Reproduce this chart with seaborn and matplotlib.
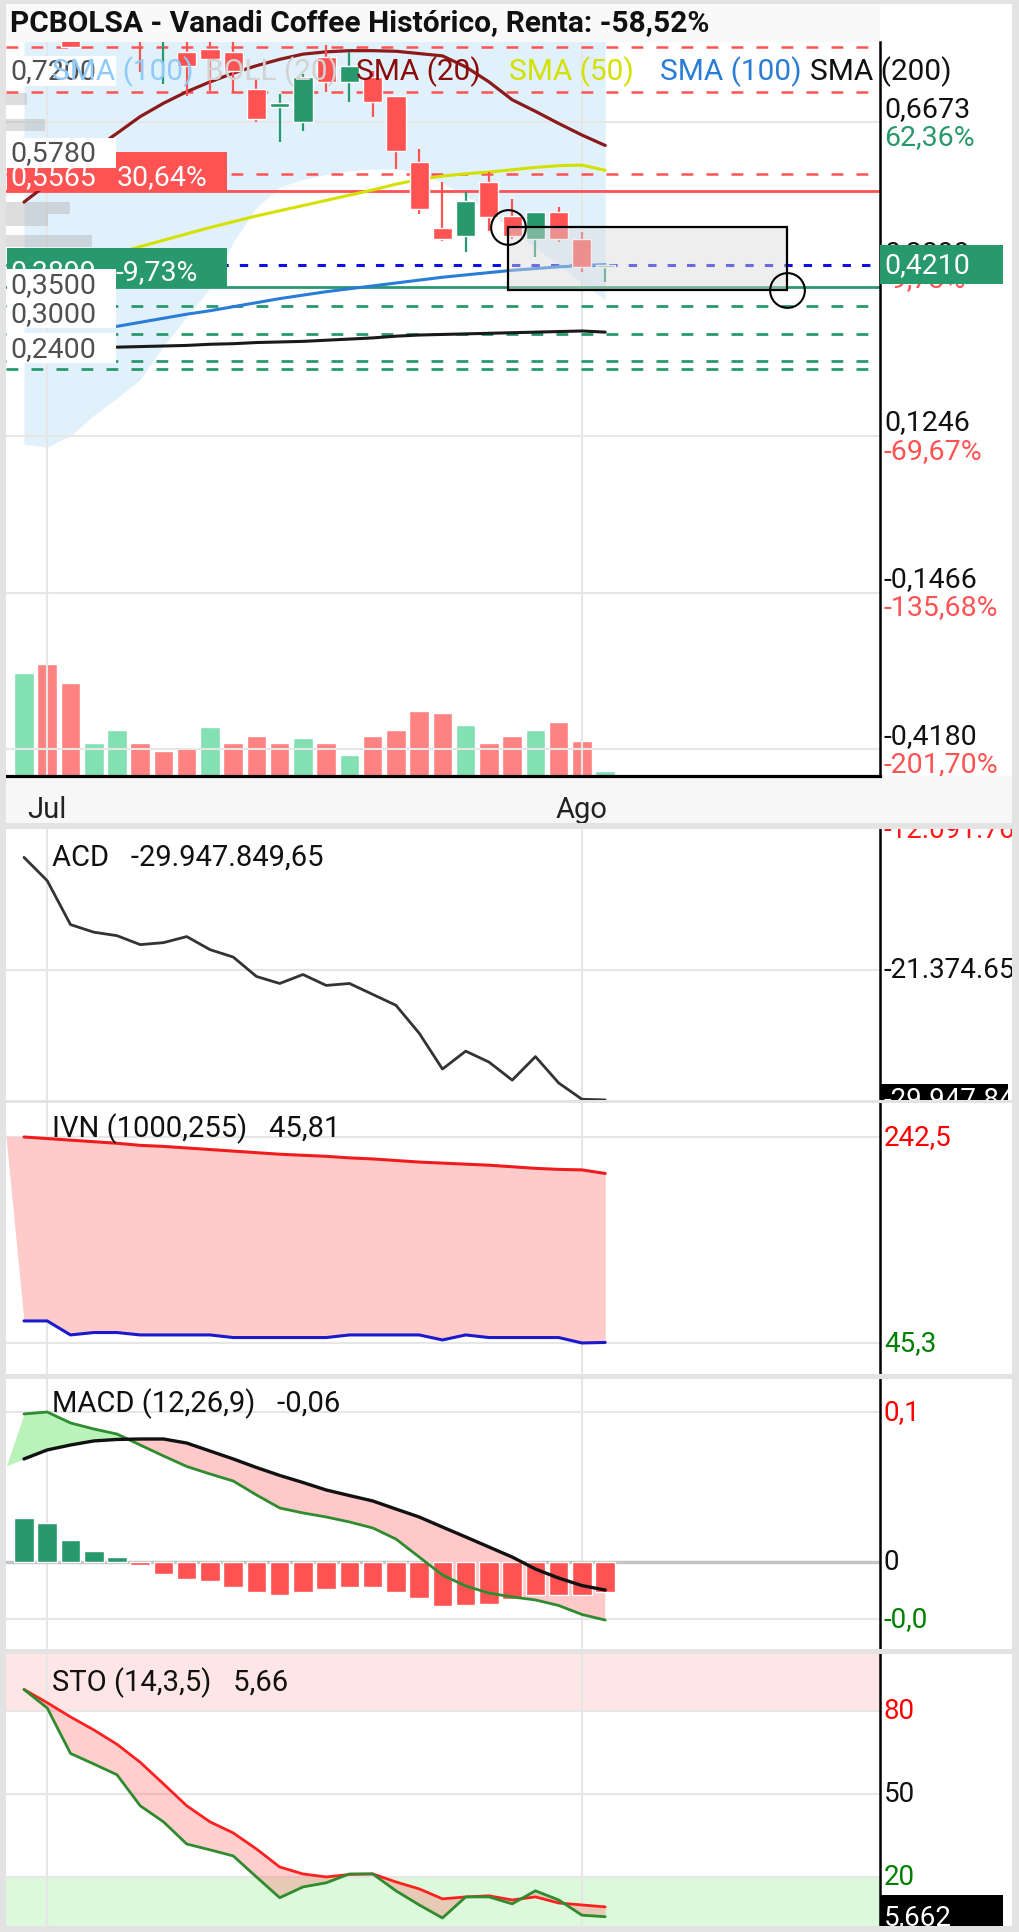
import numpy as np
import matplotlib
matplotlib.use("Agg")
import matplotlib.pyplot as plt
from matplotlib.patches import Rectangle
import seaborn as sns

# ---------------- data ----------------
bars = list(range(26))                 # daily sessions, July -> August
month_ticks = [1, 24]
month_labels = ["Jul", "Ago"]

opens = [0.840, 0.900, 0.860, 0.820, 0.830, 0.840, 0.812, 0.788, 0.794, 0.788, 0.724, 0.694, 0.667,
         0.780, 0.737, 0.745, 0.712, 0.598, 0.484, 0.470, 0.564, 0.505, 0.465, 0.512, 0.465, 0.416]
closes = [0.880, 0.850, 0.797, 0.850, 0.860, 0.810, 0.840, 0.764, 0.776, 0.756, 0.673, 0.700, 0.745,
          0.737, 0.764, 0.702, 0.617, 0.517, 0.465, 0.531, 0.503, 0.470, 0.512, 0.465, 0.416, 0.421]
highs = [0.900, 0.920, 0.880, 0.870, 0.880, 0.860, 0.850, 0.810, 0.820, 0.810, 0.742, 0.716, 0.750,
         0.800, 0.788, 0.755, 0.712, 0.621, 0.564, 0.546, 0.581, 0.534, 0.512, 0.520, 0.477, 0.421]
lows = [0.830, 0.830, 0.797, 0.810, 0.815, 0.754, 0.733, 0.712, 0.721, 0.719, 0.667, 0.633, 0.652,
        0.719, 0.702, 0.676, 0.586, 0.508, 0.461, 0.442, 0.479, 0.465, 0.434, 0.460, 0.408, 0.391]

# volume in millions, colour flag as drawn (1 = green)
volume = [2.06, 2.24, 1.86, 0.66, 0.92, 0.66, 0.50, 0.58, 0.98, 0.66, 0.80, 0.66, 0.76,
          0.66, 0.42, 0.80, 0.92, 1.30, 1.26, 1.02, 0.66, 0.80, 0.92, 1.08, 0.70, 0.10]
vol_up = [1, 0, 0, 1, 1, 0, 0, 0, 1, 0, 0, 0, 1, 0, 1, 0, 0, 0, 0, 1, 0, 0, 1, 0, 0, 1]

# volume at price (thousand shares)
prof_price = [0.707, 0.662, 0.519, 0.498, 0.461]
prof_vol = [21, 39, 64, 42, 86]

sma20 = [0.529, 0.560, 0.590, 0.620, 0.648, 0.677, 0.700, 0.720, 0.737, 0.752, 0.765, 0.776, 0.785,
         0.789, 0.791, 0.791, 0.790, 0.786, 0.782, 0.763, 0.737, 0.706, 0.686, 0.665, 0.645, 0.627]
sma50 = [0.430, 0.440, 0.452, 0.463, 0.474, 0.485, 0.495, 0.505, 0.514, 0.523, 0.532, 0.541,
         0.550, 0.560, 0.568, 0.574, 0.578, 0.581, 0.585, 0.589, 0.592, 0.593, 0.584]
sma100 = [0.314, 0.321, 0.328, 0.335, 0.341, 0.348, 0.355, 0.362, 0.368, 0.374, 0.379,
          0.384, 0.389, 0.394, 0.399, 0.403, 0.407, 0.411, 0.414, 0.417, 0.419, 0.421]
sma200 = [0.278, 0.279, 0.280, 0.281, 0.283, 0.284, 0.286, 0.287, 0.288, 0.290, 0.292,
          0.294, 0.297, 0.299, 0.300, 0.301, 0.302, 0.303, 0.304, 0.305, 0.306, 0.304]
boll_low = [0.110, 0.105, 0.125, 0.160, 0.190, 0.222, 0.280, 0.330, 0.380, 0.460, 0.520, 0.555, 0.568,
            0.577, 0.583, 0.586, 0.586, 0.580, 0.562, 0.540, 0.512, 0.480, 0.450, 0.420, 0.390, 0.360]
boll_up = [1.00, 1.02, 1.03, 1.04, 1.05, 1.05, 1.04, 1.03, 1.02, 1.00, 0.99, 0.99, 1.00,
           1.00, 0.99, 0.99, 0.99, 0.99, 1.00, 0.99, 0.98, 0.97, 0.96, 0.95, 0.93, 0.90]

main_grid = [0.6673, 0.1246, -0.1466, -0.4180]
main_grid_labels = ["0,6673", "0,1246", "-0,1466", "-0,4180"]
main_grid_pct = ["62,36%", "-69,67%", "-135,68%", "-201,70%"]
red_dashed = [0.797, 0.720, 0.578]
red_solid = 0.5485
green_solid = 0.3818
green_dashed = [0.350, 0.300, 0.2535, 0.240]
last_price = 0.421
level_labels = ["0,7200", "0,5780", "0,3500", "0,3000", "0,2400"]
level_values = [0.720, 0.578, 0.350, 0.300, 0.240]
box_x = [20.8, 32.8]          # drawn rectangle corners (session, price)
box_y = [0.3766, 0.4856]

acd = [-13.96e6, -15.50e6, -18.39e6, -18.89e6, -19.12e6, -19.71e6, -19.58e6, -19.18e6, -20.04e6,
       -20.53e6, -21.81e6, -22.27e6, -21.68e6, -22.40e6, -22.27e6, -22.99e6, -23.71e6, -25.55e6,
       -27.91e6, -26.73e6, -27.45e6, -28.64e6, -27.09e6, -28.83e6, -29.90e6, -29947849.65]
acd_grid = -21374657

ivn_x = list(range(-1, 26))
ivn_hi = [244.0, 242.5, 241.0, 239.5, 238.0, 236.5, 234.5, 233.5, 232.0, 230.5, 229.0, 227.5, 226.0, 225.0,
          224.0, 222.5, 221.5, 220.0, 218.5, 217.5, 216.5, 215.5, 214.0, 212.5, 211.5, 211.0, 207.6]
ivn_lo = [294.0, 66.4, 66.4, 53.0, 55.3, 55.3, 53.0, 53.0, 53.0, 53.0, 50.5, 50.5, 50.5, 50.5,
          50.5, 53.0, 53.0, 53.0, 53.0, 48.2, 53.0, 50.5, 50.5, 50.5, 50.5, 45.3, 45.81]

macd_x = list(range(-1, 26))
macd = [0.053, 0.0987, 0.100, 0.0927, 0.0887, 0.0853, 0.078, 0.0707, 0.0637, 0.0587, 0.054, 0.0447, 0.036,
        0.0327, 0.030, 0.0267, 0.0227, 0.0153, 0.0033, -0.0087, -0.016, -0.0207, -0.0233, -0.0253,
        -0.029, -0.035, -0.0387]
macd_sig = [0.0627, 0.0687, 0.0747, 0.078, 0.0807, 0.0817, 0.082, 0.082, 0.0793, 0.074, 0.0687, 0.063,
            0.0577, 0.053, 0.048, 0.0443, 0.0407, 0.0353, 0.030, 0.0233, 0.0167, 0.010, 0.0033,
            -0.0047, -0.0107, -0.0157, -0.0187]
macd_hist = [0.0294, 0.0258, 0.0149, 0.0072, 0.0036, -0.0019, -0.0077, -0.0113, -0.0128, -0.0168,
             -0.020, -0.0221, -0.020, -0.018, -0.0168, -0.0168, -0.020, -0.0241, -0.0294, -0.0284,
             -0.0277, -0.0245, -0.0221, -0.0221, -0.0221, -0.0197]

sto_k = [87.7, 81.0, 64.6, 60.8, 56.9, 45.7, 39.9, 31.9, 29.8, 27.6, 20.0, 12.5, 16.4,
         17.9, 21.1, 21.1, 15.0, 9.9, 5.2, 12.8, 12.8, 10.3, 15.0, 11.7, 6.2, 5.66]
sto_d = [87.7, 82.9, 77.8, 73.1, 67.9, 61.4, 53.6, 45.7, 39.9, 35.9, 30.1, 23.6, 21.1,
         20.0, 20.9, 21.1, 18.2, 15.7, 12.1, 12.8, 13.2, 11.7, 12.8, 10.6, 9.9, 9.2]

# ---------------- style ----------------
sns.set_theme(style="white")
plt.rcParams["font.family"] = ["Roboto", "DejaVu Sans"]
plt.rcParams["lines.scale_dashes"] = False

W, H = 1020, 1933
XLIM = (-0.774, 36.82)
GREEN = "#28996c"
RED = "#ff5252"
GRID = "#e6e6e6"
SEP = "#e3e3e3"
FS_MAIN = 20.5     # right/left labels of the price panel
FS_LOW = 20        # right labels of the indicator panels
FS_TITLE = 21      # indicator names

fig = plt.figure(figsize=(W / 100, H / 100), dpi=100)
fig.patch.set_facecolor("white")


def px_rect(x0, y0, x1, y1):
    return [x0 / W, 1 - y1 / H, (x1 - x0) / W, (y1 - y0) / H]


def fig_box(x0, y0, x1, y1, color, z=-1):
    fig.add_artist(Rectangle((x0 / W, 1 - y1 / H), (x1 - x0) / W, (y1 - y0) / H,
                             transform=fig.transFigure, fc=color, ec="none", zorder=z))


def label_axes(y0, y1, ylim):
    axr = fig.add_axes(px_rect(880, y0, 1012, y1))
    axr.set_xlim(0, 1)
    axr.set_ylim(*ylim)
    axr.axis("off")
    return axr


def rlabel(axr, y, txt, color, size=FS_LOW):
    axr.text(0.03, y, txt, color=color, fontsize=size, va="center", ha="left", clip_on=True)


# ---------------- main price panel ----------------
MAIN = (43, 777)
MAIN_YLIM = (-0.464, 0.806)

ax_vol = fig.add_axes(px_rect(6, MAIN[0], 880, MAIN[1]))
ax_vol.bar(bars, volume, width=0.84, color=["#82e0b2" if u else "#ff8282" for u in vol_up], zorder=1)
ax_vol.set_xlim(XLIM)
ax_vol.set_ylim(0, 14.68)
ax_vol.axis("off")

ax = fig.add_axes(px_rect(6, MAIN[0], 880, MAIN[1]))
ax.patch.set_alpha(0)
ax.set_xlim(XLIM)
ax.set_ylim(MAIN_YLIM)

# bollinger band
ax.fill_between(bars, boll_low, boll_up, color="#e1f1fc", lw=0, zorder=0.3)
# volume at price
ax.barh(prof_price, np.array(prof_vol) / 23.25, left=XLIM[0], height=0.021,
        color="#b5b5b5", alpha=0.45, lw=0, zorder=0.8)

# horizontal levels
for lv in red_dashed:
    ax.axhline(lv, color=RED, lw=1.8, ls=(0, (8.5, 9.5)), zorder=1)
ax.axhline(red_solid, color=RED, lw=2.0, zorder=1)
ax.axhline(green_solid, color=GREEN, lw=2.0, zorder=1)
for lv in green_dashed:
    ax.axhline(lv, color=GREEN, lw=2.0, ls=(0, (8.5, 9.5)), zorder=1)
ax.axhline(last_price, color="#1010e0", lw=2.2, ls=(0, (6, 8)), zorder=1)

# moving averages
sns.lineplot(x=bars, y=sma20, ax=ax, color="#8b1a1a", linewidth=2.3, zorder=2)
sns.lineplot(x=bars[3:], y=sma50, ax=ax, color="#d4e000", linewidth=2.2, zorder=2)
sns.lineplot(x=bars[4:], y=sma100, ax=ax, color="#2a7dd6", linewidth=2.2, zorder=2)
sns.lineplot(x=bars[4:], y=sma200, ax=ax, color="#1a1a1a", linewidth=2.2, zorder=2)

# candles
o, c, h, l = map(np.array, (opens, closes, highs, lows))
ccol = np.where(c >= o, GREEN, RED)
ax.vlines(bars, l, h, colors=ccol, linewidth=1.6, zorder=3)
ax.bar(bars, np.maximum(np.abs(c - o), 0.004), bottom=np.minimum(o, c), width=0.82,
       color=ccol, zorder=3.1)

# drawn rectangle with its two handles
ax.add_patch(Rectangle((box_x[0], box_y[0]), box_x[1] - box_x[0], box_y[1] - box_y[0],
                       fc=(0.86, 0.86, 0.86, 0.45), ec="black", lw=1.6, zorder=4))
ax.plot([box_x[0], box_x[1]], [box_y[1], box_y[0]], "o", ms=25, mfc="none", mec="black",
        mew=1.5, zorder=4.5)

# left tags (coloured) and level labels (white)
frac = ax.get_yaxis_transform()
ax.add_patch(Rectangle((0.001, red_solid), 0.252, 0.0675, transform=frac, fc=RED, ec="none", zorder=5))
ax.add_patch(Rectangle((0.001, green_solid), 0.252, 0.0675, transform=frac, fc=GREEN, ec="none", zorder=5))
ax.text(0.005, red_solid + 0.0254, "0,5565", transform=frac, color="white", fontsize=FS_MAIN,
        va="center", zorder=5.5)
ax.text(0.127, red_solid + 0.0254, "30,64%", transform=frac, color="white", fontsize=FS_MAIN,
        va="center", zorder=5.5)
ax.text(0.005, green_solid + 0.0277, "0,3899", transform=frac, color="white", fontsize=FS_MAIN,
        va="center", zorder=5.5)
ax.text(0.125, green_solid + 0.0277, "-9,73%", transform=frac, color="white", fontsize=FS_MAIN,
        va="center", zorder=5.5)
for txt, lv in zip(level_labels, level_values):
    ax.add_patch(Rectangle((0.001, lv + 0.0104), 0.125, 0.052, transform=frac,
                           fc="white", ec="none", zorder=6))
    ax.text(0.005, lv + 0.0363, txt, transform=frac, color="#505050", fontsize=FS_MAIN,
            va="center", zorder=6.5)

ax.set(xlabel="", ylabel="")
ax.set_yticks(main_grid)
ax.set_xticks(month_ticks)
ax.set_xticklabels(month_labels)
ax.grid(True, color=GRID, linewidth=1.5)
ax.set_axisbelow(True)
ax.tick_params(axis="y", left=False, labelleft=False)
ax.tick_params(axis="x", bottom=False, labelsize=21, pad=8, labelcolor="#222222")
for side in ("left", "top"):
    ax.spines[side].set_visible(False)
ax.spines["right"].set_color("black")
ax.spines["right"].set_linewidth(1.8)
ax.spines["bottom"].set_color("black")
ax.spines["bottom"].set_linewidth(2.3)

axr = label_axes(MAIN[0], MAIN[1], MAIN_YLIM)
for lv, lab, pct in zip(main_grid, main_grid_labels, main_grid_pct):
    rlabel(axr, lv + 0.024, lab, "#111111", FS_MAIN)
    rlabel(axr, lv - 0.025, pct, GREEN if pct[0] != "-" else RED, FS_MAIN)
rlabel(axr, 0.4424, "0,3899", "#111111", FS_MAIN)
rlabel(axr, 0.397, "-9,73%", RED, FS_MAIN)
axr.add_patch(Rectangle((0, last_price - 0.033), 0.932, 0.066, fc=GREEN, ec="none", zorder=3))
axr.text(0.03, last_price, "0,4210", color="white", fontsize=FS_MAIN, va="center", zorder=4)

# legend row + title
legend = [("SMA (100)", "#90caf9", 52), ("BOLL (20)", "#d2d2d2", 205), ("SMA (20)", "#8b0a0a", 356),
          ("SMA (50)", "#d4e000", 509), ("SMA (100)", "#2a7dd6", 660), ("SMA (200)", "#111111", 810)]
for txt, col, xp in legend:
    fig.text(xp / W, 1 - 72 / H, txt, color=col, fontsize=21.5, va="center", ha="left")
fig.text(10 / W, 1 - 23 / H, "PCBOLSA - Vanadi Coffee Histórico, Renta: -58,52%",
         fontsize=21.5, fontweight="bold", va="center", ha="left", color="#111111")


# ---------------- lower indicator panels ----------------
def lower_panel(y0, y1, ylim, grid_vals, title, tfrac):
    a = fig.add_axes(px_rect(6, y0, 880, y1))
    a.set_xlim(XLIM)
    a.set_ylim(ylim)
    a.set_xticks(month_ticks)
    a.set_yticks(grid_vals)
    a.grid(True, color=GRID, linewidth=1.5)
    a.set_axisbelow(True)
    a.tick_params(left=False, bottom=False, labelleft=False, labelbottom=False)
    for side in ("left", "top", "bottom"):
        a.spines[side].set_visible(False)
    a.spines["right"].set_color("black")
    a.spines["right"].set_linewidth(1.8)
    a.text(0.053, tfrac, title, transform=a.transAxes, fontsize=FS_TITLE, va="center",
           color="#111111", zorder=6)
    return a, label_axes(y0, y1, ylim)


# ACD
ACD_YLIM = (-29.95e6, -12.09e6)
ax1, ar1 = lower_panel(830, 1101, ACD_YLIM, [acd_grid], "ACD   -29.947.849,65", 0.90)
sns.lineplot(x=bars, y=acd, ax=ax1, color="#333333", linewidth=2.0, zorder=3)
ax1.set(xlabel="", ylabel="")
rlabel(ar1, -12.09e6, "-12.091.764", "#ff1a1a")
rlabel(ar1, acd_grid, "-21.374.657", "#111111")
ar1.add_patch(Rectangle((0, acd[-1] - 1.05e6), 0.97, 2.1e6, fc="black", ec="none"))
rlabel(ar1, acd[-1], "-29.947.849", "white")

# IVN
IVN_YLIM = (15.6, 275.05)
ax2, ar2 = lower_panel(1104, 1375, IVN_YLIM, [242.5, 45.3], "IVN (1000,255)   45,81", 0.908)
ax2.fill_between(ivn_x, ivn_lo, ivn_hi, color="#ffcaca", lw=0, zorder=1)
sns.lineplot(x=ivn_x[1:], y=ivn_hi[1:], ax=ax2, color="#ee1c1c", linewidth=2.2, zorder=3)
sns.lineplot(x=ivn_x[1:], y=ivn_lo[1:], ax=ax2, color="#1a1acc", linewidth=2.2, zorder=3)
ax2.set(xlabel="", ylabel="")
rlabel(ar2, 242.5, "242,5", "#ff0000")
rlabel(ar2, 45.3, "45,3", "#008000")

# MACD
MACD_YLIM = (-0.058, 0.122)
ax3, ar3 = lower_panel(1380, 1650, MACD_YLIM, [0.1, -0.038], "MACD (12,26,9)   -0,06", 0.911)
ax3.axhline(0, color="#c4c4c4", lw=2.5, zorder=0.6)
mx, m, s = np.array(macd_x), np.array(macd), np.array(macd_sig)
ax3.fill_between(mx, m, s, where=m >= s, interpolate=True, color="#b9f3b9", lw=0, zorder=1)
ax3.fill_between(mx, m, s, where=m < s, interpolate=True, color="#ffc9c9", lw=0, zorder=1)
hist = np.array(macd_hist)
ax3.bar(bars, hist, width=0.84, color=np.where(hist >= 0, GREEN, RED), zorder=2)
sns.lineplot(x=macd_x[1:], y=macd[1:], ax=ax3, color="#2e8b2e", linewidth=2.0, zorder=3)
sns.lineplot(x=macd_x[1:], y=macd_sig[1:], ax=ax3, color="#111111", linewidth=2.4, zorder=3)
ax3.set(xlabel="", ylabel="")
rlabel(ar3, 0.1, "0,1", "#ff0000")
rlabel(ar3, 0.0, "0", "#111111")
rlabel(ar3, -0.038, "-0,0", "#008000")

# STO
STO_YLIM = (2.3, 100.5)
ax4, ar4 = lower_panel(1655, 1927, STO_YLIM, [80, 50, 20], "STO (14,3,5)   5,66", 0.90)
ax4.axhspan(80, STO_YLIM[1], color="#ffe6e6", lw=0, zorder=0.2)
ax4.axhspan(STO_YLIM[0], 20, color="#dcf9dc", lw=0, zorder=0.2)
ax4.fill_between(bars, sto_k, sto_d, color="#ff6060", alpha=0.3, lw=0, zorder=1)
sns.lineplot(x=bars, y=sto_d, ax=ax4, color="#ff2020", linewidth=2.0, zorder=3)
sns.lineplot(x=bars, y=sto_k, ax=ax4, color="#2e8b2e", linewidth=2.0, zorder=3)
ax4.set(xlabel="", ylabel="")
rlabel(ar4, 80, "80", "#ff0000")
rlabel(ar4, 50, "50", "#111111")
rlabel(ar4, 20, "20", "#008000")
ar4.add_patch(Rectangle((0, sto_k[-1] - 7.9), 0.93, 15.8, fc="black", ec="none"))
rlabel(ar4, sto_k[-1], "5,662", "white")

# ---------------- frame, title bar, date strip, separators ----------------
fig_box(6, 5, 880, 43, "#f9f9f9")
fig_box(6, 777, 1012, 824, "#f7f7f7")
fig_box(0, 0, 1020, 5, SEP, 1)
fig_box(0, 0, 6, H, SEP, 1)
fig_box(1012, 0, 1020, H, SEP, 1)
fig_box(0, 1927, 1020, H, SEP, 1)
fig_box(6, 824, 1012, 830, SEP, 1)
fig_box(6, 1101, 1012, 1104, SEP, 1)
fig_box(6, 1375, 1012, 1380, SEP, 1)
fig_box(6, 1650, 1012, 1655, SEP, 1)

fig.savefig("out.png", dpi=100)
